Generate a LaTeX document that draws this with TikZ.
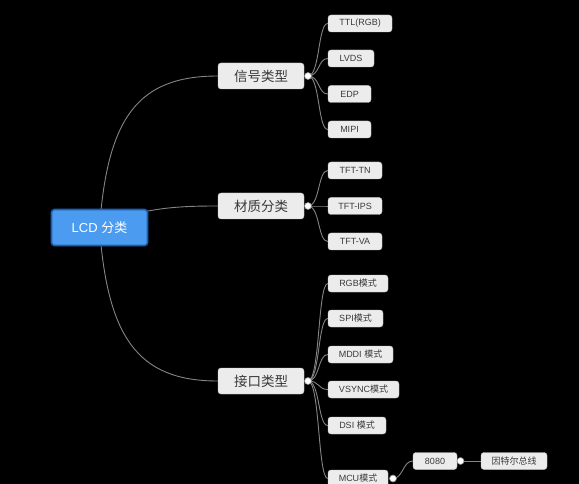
\documentclass[tikz,border=0pt]{standalone}
\usepackage{fontspec}
\setmainfont{Liberation Sans}
\newfontfamily\cjk{Noto Sans CJK SC}
\pgfdeclarelayer{background}
\pgfdeclarelayer{bg}
\pgfsetlayers{bg,background,main}
\definecolor{edgec}{HTML}{858585}
\definecolor{boxc}{HTML}{ECECEC}
\definecolor{boxd}{HTML}{C8C8C8}
\definecolor{txt}{HTML}{3A3A3A}
\definecolor{rootf}{HTML}{4B9CF0}
\definecolor{rootd}{HTML}{1D5FB5}
\tikzset{
  lvone/.style={draw=boxd, fill=boxc, rounded corners=3pt, minimum width=86pt, minimum height=26pt, inner sep=0pt, text=txt, font=\cjk\fontsize{13.5}{13.5}\selectfont},
  lvtwo/.style={draw=boxd, fill=boxc, rounded corners=3pt, minimum height=17pt, inner sep=0pt, text=txt, font=\fontsize{9}{9}\selectfont},
  rootbox/.style={draw=rootd, fill=rootf, line width=1.6pt, rounded corners=3pt, minimum width=96pt, minimum height=36pt, inner sep=0pt, text=white, font=\fontsize{13}{13}\selectfont},
  handle/.style={circle, draw=edgec, fill=white, line width=0.6pt, minimum size=7pt, inner sep=0pt},
  conn/.style={draw=edgec, line width=0.9pt}
}
\begin{document}
\begin{tikzpicture}[x=1pt,y=-1pt]
\begin{pgfonlayer}{bg}
\fill[black] (0,0) rectangle (579,484);
\end{pgfonlayer}
\useasboundingbox (0,0) rectangle (579,484);
% root
\node[rootbox] (root) at (99.5,227.5) {LCD {\cjk 分类}};
% level one
\node[lvone] (s1) at (261,76) {信号类型};
\node[lvone] (s2) at (261,206) {材质分类};
\node[lvone] (s3) at (261,381) {接口类型};
\node[handle] (h1) at (308,76) {};
\node[handle] (h2) at (308,206) {};
\node[handle] (h3) at (308,381) {};
% level two
\node[lvtwo, minimum width=64pt] (a1) at (360,23.5) {TTL(RGB)};
\node[lvtwo, minimum width=46pt] (a2) at (351,58.5) {LVDS};
\node[lvtwo, minimum width=43pt] (a3) at (349.5,94) {EDP};
\node[lvtwo, minimum width=43pt] (a4) at (349.5,129.5) {MIPI};
\node[lvtwo, minimum width=54pt] (b1) at (355,170.5) {TFT-TN};
\node[lvtwo, minimum width=54pt] (b2) at (355,206) {TFT-IPS};
\node[lvtwo, minimum width=54pt] (b3) at (355,241.5) {TFT-VA};
\node[lvtwo, minimum width=60pt] (c1) at (358,283.5) {RGB{\cjk 模式}};
\node[lvtwo, minimum width=55pt] (c2) at (355.5,318.5) {SPI{\cjk 模式}};
\node[lvtwo, minimum width=65pt] (c3) at (360.5,354.5) {MDDI {\cjk 模式}};
\node[lvtwo, minimum width=71pt] (c4) at (363.5,389.5) {VSYNC{\cjk 模式}};
\node[lvtwo, minimum width=58pt] (c5) at (357,425.5) {DSI {\cjk 模式}};
\node[lvtwo, minimum width=60pt] (c6) at (358,478.5) {MCU{\cjk 模式}};
\node[handle] (h4) at (393,478.5) {};
\node[lvtwo, minimum width=44pt] (d1) at (435,461) {8080};
\node[handle] (h5) at (460.5,461) {};
\node[lvtwo, minimum width=66pt] (e1) at (514,461) {\cjk 因特尔总线};
\begin{pgfonlayer}{background}
\draw[conn] (root.center) .. controls +(8,-110) and +(-80,0) .. (s1.west);
\draw[conn] (root.center) .. controls +(40,-20) and +(-40,0) .. (s2.west);
\draw[conn] (root.center) .. controls +(8,110) and +(-80,0) .. (s3.west);
\foreach \c in {a1,a2,a3,a4}{\draw[conn] (h1.center) .. controls +(12,0) and +(-10,0) .. (\c.west);}
\foreach \c in {b1,b2,b3}{\draw[conn] (h2.center) .. controls +(12,0) and +(-10,0) .. (\c.west);}
\foreach \c in {c1,c2,c3,c4,c5,c6}{\draw[conn] (h3.center) .. controls +(12,0) and +(-10,0) .. (\c.west);}
\draw[conn] (h4.center) .. controls +(10,0) and +(-10,0) .. (d1.west);
\draw[conn] (h5.center) -- (e1.west);
\end{pgfonlayer}
\end{tikzpicture}
\end{document}
